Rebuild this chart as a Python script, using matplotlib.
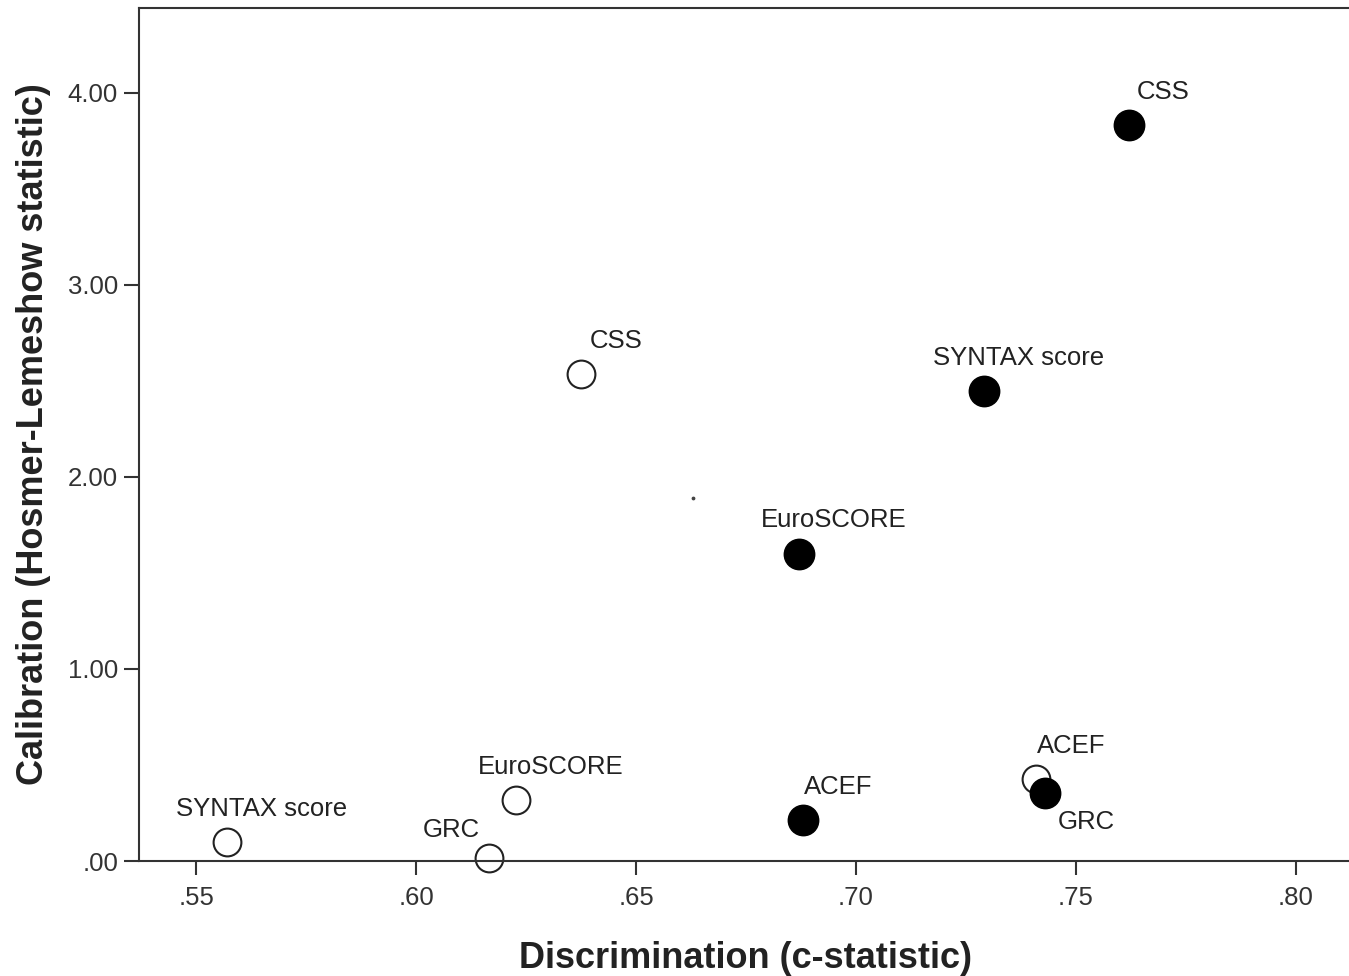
import numpy as np
import matplotlib
matplotlib.use("Agg")
import matplotlib.pyplot as plt

plt.rcParams["font.family"] = ["Liberation Sans", "DejaVu Sans"]

# =====================================================
# DATA
# =====================================================

scores = ["CSS", "SYNTAX score", "EuroSCORE", "ACEF", "GRC"]

# filled circles
filled_c = [0.762, 0.729, 0.687, 0.688, 0.743]
filled_hl = [3.83, 2.445, 1.60, 0.213, 0.354]

# open circles
open_c = [0.6375, 0.557, 0.6227, 0.741, 0.6166]
open_hl = [2.533, 0.099, 0.317, 0.427, 0.016]

# stray tiny dot in the original
stray_c = [0.663]
stray_hl = [1.89]

x_ticks = [0.55, 0.60, 0.65, 0.70, 0.75, 0.80]
x_tick_labels = [".55", ".60", ".65", ".70", ".75", ".80"]
y_ticks = [0, 1, 2, 3, 4]
y_tick_labels = [".00", "1.00", "2.00", "3.00", "4.00"]

# =====================================================
# PLOT
# =====================================================

fig = plt.figure(figsize=(13.49, 9.76), dpi=100)
ax = fig.add_axes([0.103, 0.1178, 0.90, 0.874])

ax.scatter(filled_c, filled_hl, s=480, c="black", edgecolors="black",
           linewidths=1, zorder=3)
ax.scatter(open_c, open_hl, s=400, facecolors="white", edgecolors="#222222",
           linewidths=1.5, zorder=2, clip_on=False)
ax.scatter(stray_c, stray_hl, s=3, c="#444444", zorder=2)

# label offsets in points (default: above right)
default_off = (25, 24)
filled_off = {"GRC": (30, -21)}
open_off = {"GRC": (-27, 20)}

for name, x, y in zip(scores, filled_c, filled_hl):
    off = filled_off.get(name, default_off)
    ax.annotate(name, (x, y), xytext=off, textcoords="offset points",
                ha="center", va="center", fontsize=18.5, color="#222222")

for name, x, y in zip(scores, open_c, open_hl):
    off = open_off.get(name, default_off)
    ax.annotate(name, (x, y), xytext=off, textcoords="offset points",
                ha="center", va="center", fontsize=18.5, color="#222222")

ax.set_xlim(0.537, 0.813)
ax.set_ylim(0, 4.44)

ax.set_xticks(x_ticks)
ax.set_xticklabels(x_tick_labels)
ax.set_yticks(y_ticks)
ax.set_yticklabels(y_tick_labels)

ax.tick_params(axis="x", length=10, width=1.5, color="#333333",
               labelsize=18.5, labelcolor="#333333", pad=8)
ax.tick_params(axis="y", length=11, width=1.5, color="#333333",
               labelsize=18.5, labelcolor="#333333", pad=4)

for side in ["left", "bottom", "top"]:
    ax.spines[side].set_linewidth(1.5)
    ax.spines[side].set_color("#333333")
ax.spines["right"].set_visible(False)

ax.set_xlabel("Discrimination (c-statistic)", fontsize=26, fontweight="bold",
              color="#222222", labelpad=22)
ax.set_ylabel("Calibration (Hosmer-Lemeshow statistic)", fontsize=26,
              fontweight="bold", color="#222222", labelpad=12)

fig.savefig("out.png", dpi=100)
